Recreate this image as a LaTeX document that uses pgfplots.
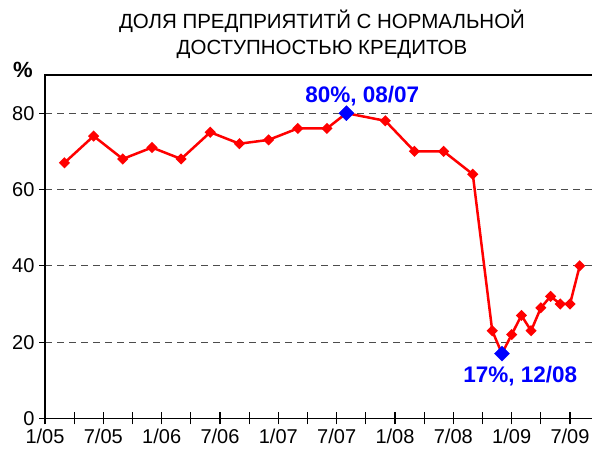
\documentclass[border=0pt]{standalone}
\usepackage{fontspec}
\setmainfont{Liberation Sans}
\usepackage{pgfplots}
\pgfplotsset{compat=1.18}
\begin{document}
\begin{tikzpicture}[x=1pt,y=1pt]
\path[use as bounding box] (-45,-38.5) rectangle (547,418.5);
\node[anchor=base,font=\fontsize{20.5}{22}\selectfont] at (277,389.5) {ДОЛЯ ПРЕДПРИЯТИТЙ С НОРМАЛЬНОЙ};
\node[anchor=base,font=\fontsize{20.5}{22}\selectfont] at (277,363.5) {ДОСТУПНОСТЬЮ КРЕДИТОВ};
\node[anchor=base,font=\fontsize{22}{24}\selectfont\bfseries] at (-22,340.5) {\%};
% y axis ticks and labels (outside ticks)
\begin{axis}[
  at={(0,0)}, anchor=south west,
  scale only axis, width=560pt, height=343.5pt,
  xmin=0, xmax=57.6, ymin=0, ymax=90,
  hide x axis,
  axis y line*=left,
  ytick={0,20,40,60,80},
  tick align=outside,
  major tick length=6pt,
  every tick/.style={black, line width=1.2pt},
  axis line style={line width=1.6pt},
  /pgf/number format/assume math mode=true,
  tick label style={font=\fontsize{20}{22}\selectfont},
  yticklabel style={xshift=-1pt},
]
\end{axis}
% main axis: data, grid, x ticks crossing the axis
\begin{axis}[
  at={(0,0)}, anchor=south west,
  scale only axis, width=560pt, height=343.5pt,
  xmin=0, xmax=57.6, ymin=0, ymax=90,
  xtick={0,3,...,54},
  xticklabels={1/05,,7/05,,1/06,,7/06,,1/07,,7/07,,1/08,,7/08,,1/09,,7/09},
  ytick={0,20,40,60,80},
  yticklabels={},
  ytick style={draw=none},
  xtick pos=bottom,
  ymajorgrids,
  major grid style={dash pattern=on 7pt off 5pt, black!70, line width=1pt},
  axis line style={line width=1.6pt},
  tick align=center,
  major tick length=12pt,
  xtick style={black, line width=1.2pt},
  /pgf/number format/assume math mode=true,
  tick label style={font=\fontsize{20}{22}\selectfont},
  xticklabel style={yshift=-1pt},
  clip=false,
]
\addplot[red, line width=2.5pt, mark=square*, mark size=2.7pt, mark options={rotate=45, solid}] coordinates {
(2,67)(5,74)(8,68)(11,71)(14,68)(17,75)(20,72)(23,73)(26,76)(29,76)(31,80)(35,78)(38,70)(41,70)(44,64)(46,23)(47,17)(48,22)(49,27)(50,23)(51,29)(52,32)(53,30)(54,30)(55,40)
};
\addplot[only marks, blue, mark=square*, mark size=5.3pt, mark options={rotate=45}] coordinates {(31,80)(47,17)};
\node[anchor=base, text=blue, font=\fontsize{22.5}{24}\selectfont\bfseries, xshift=15.8pt, yshift=10.3pt] at (axis cs:31,80) {80\%, 08/07};
\node[anchor=base, text=blue, font=\fontsize{22.5}{24}\selectfont\bfseries, xshift=18.3pt, yshift=-29pt] at (axis cs:47,17) {17\%, 12/08};
\end{axis}
\end{tikzpicture}
\end{document}
